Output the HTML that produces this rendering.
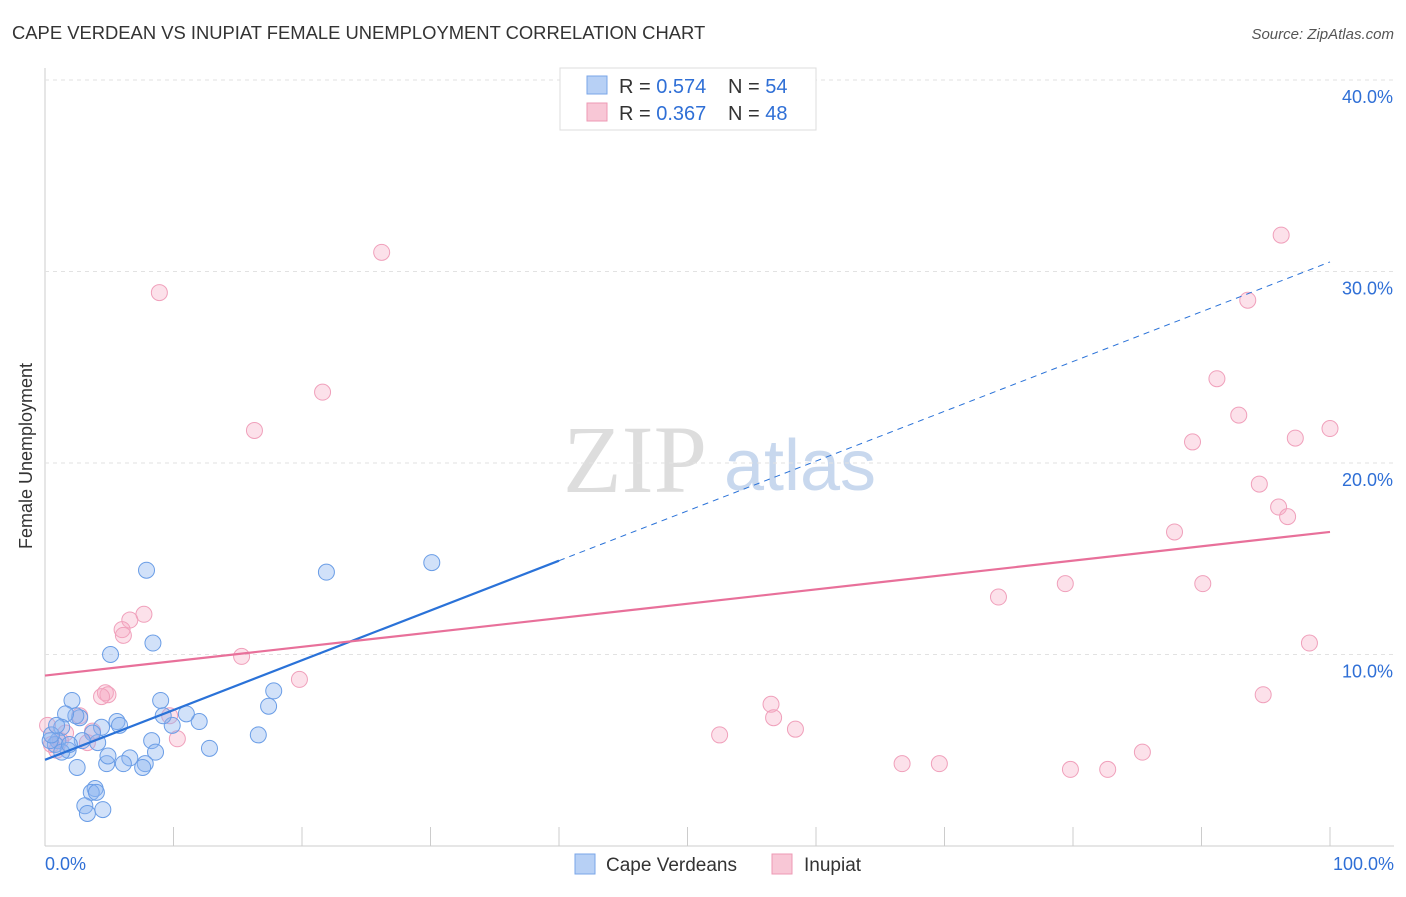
<!DOCTYPE html>
<html><head><meta charset="utf-8"><style>
body{margin:0;background:#fff;font-family:"Liberation Sans",sans-serif;}
</style></head><body>
<svg width="1406" height="892" xmlns="http://www.w3.org/2000/svg" id="chart" font-family="Liberation Sans, sans-serif">
<text x="12" y="39" font-size="18.4" fill="#333">CAPE VERDEAN VS INUPIAT FEMALE UNEMPLOYMENT CORRELATION CHART</text>
<text x="1394" y="39" font-size="15" fill="#555" font-style="italic" text-anchor="end">Source: ZipAtlas.com</text>
<text x="32" y="456" font-size="18" fill="#333" text-anchor="middle" transform="rotate(-90 32 456)">Female Unemployment</text>
<text x="635" y="492" font-size="96" fill="#ddd" font-family="Liberation Serif, serif" text-anchor="middle">ZIP</text>
<text x="800" y="490" font-size="72" fill="#c8d8ee" text-anchor="middle">atlas</text>
<g id="grid"></g><g id="marks"></g>
<g>
<rect x="560" y="68" width="256" height="62" fill="#fff" stroke="#ddd"/>
<rect x="587" y="76" width="20" height="18" fill="#b7d0f5" stroke="#7aa6e8"/>
<rect x="587" y="103" width="20" height="18" fill="#f8c7d6" stroke="#ee9ab4"/>
<text x="619" y="93" font-size="20" fill="#333">R = <tspan fill="#2f6fd6">0.574</tspan></text>
<text x="728" y="93" font-size="20" fill="#333">N = <tspan fill="#2f6fd6">54</tspan></text>
<text x="619" y="120" font-size="20" fill="#333">R = <tspan fill="#2f6fd6">0.367</tspan></text>
<text x="728" y="120" font-size="20" fill="#333">N = <tspan fill="#2f6fd6">48</tspan></text>
</g>
<g>
<rect x="575" y="854" width="20" height="20" fill="#b7d0f5" stroke="#7aa6e8"/>
<text x="606" y="871" font-size="19" fill="#333">Cape Verdeans</text>
<rect x="772" y="854" width="20" height="20" fill="#f8c7d6" stroke="#ee9ab4"/>
<text x="804" y="871" font-size="19" fill="#333">Inupiat</text>
</g>
<text x="45" y="870" font-size="18" fill="#2f6fd6">0.0%</text>
<text x="1394" y="870" font-size="18" fill="#2f6fd6" text-anchor="end">100.0%</text>
</svg>
<script>
const yTicks=[10,20,30,40];
const yTickLabels=["10.0%","20.0%","30.0%","40.0%"];
const blueX=[30.1,21.9,7.9,8.4,5.1,9.0,17.8,17.4,16.6,12.0,11.0,9.9,9.2,12.8,8.3,8.6,7.8,7.6,6.6,6.1,4.8,4.9,5.6,5.8,4.4,4.1,3.7,2.7,2.4,2.1,1.6,1.3,1.0,0.8,0.4,0.5,1.8,1.3,2.5,3.9,3.6,4.0,3.1,3.3,4.5,0.9,2.9,1.9];
const blueY=[14.8,14.3,14.4,10.6,10.0,7.6,8.1,7.3,5.8,6.5,6.9,6.3,6.8,5.1,5.5,4.9,4.3,4.1,4.6,4.3,4.3,4.7,6.5,6.3,6.2,5.4,5.9,6.7,6.8,7.6,6.9,6.2,5.5,5.3,5.5,5.8,5.0,4.9,4.1,3.0,2.8,2.8,2.1,1.7,1.9,6.3,5.5,5.3];
const pinkX=[96.2,93.6,91.2,92.9,100,97.3,89.3,94.5,96.0,96.7,87.9,79.4,90.1,74.2,98.4,94.8,56.5,56.7,58.4,52.5,85.4,66.7,69.6,79.8,82.7,26.2,8.9,21.6,16.3,15.3,19.8,7.7,6.6,6.0,6.1,4.7,4.9,4.4,9.7,10.3,2.7,3.7,1.6,0.2,0.5,0.9,3.3,1.2];
const pinkY=[31.9,28.5,24.4,22.5,21.8,21.3,21.1,18.9,17.7,17.2,16.4,13.7,13.7,13.0,10.6,7.9,7.4,6.7,6.1,5.8,4.9,4.3,4.3,4.0,4.0,31.0,28.9,23.7,21.7,9.9,8.7,12.1,11.8,11.3,11.0,8.0,7.9,7.8,6.8,5.6,6.8,6.0,5.9,6.3,5.3,5.0,5.4,5.5];
const blueTrend=[4.5,30.5];
const blueSolidEnd=40;
const pinkTrend=[8.9,16.4];
const X=v=>45+v*12.85, Y=v=>846-v*19.15;
const NS="http://www.w3.org/2000/svg";
const grid=document.getElementById('grid'), marks=document.getElementById('marks');
function mk(tag,at,parent){const e=document.createElementNS(NS,tag);for(const k in at)e.setAttribute(k,at[k]);parent.appendChild(e);return e;}
let l=mk('line',{x1:45,y1:68,x2:45,y2:846,stroke:'#ccc'},grid);


l=mk('line',{x1:45,y1:846,x2:1394,y2:846,stroke:'#ccc'},grid);


for(let i=0;i<=10;i++){const t=mk('line',{x1:X(i*10),y1:827,x2:X(i*10),y2:846,stroke:'#ccc'},grid);

}
yTicks.forEach((v,i)=>{const g=mk('line',{x1:45,y1:Y(v),x2:1394,y2:Y(v),stroke:'#e2e2e2','stroke-dasharray':'4,4'},grid);


const t=mk('text',{x:1393,y:Y(v)+23,'font-size':18,fill:'#2f6fd6','text-anchor':'end'},grid);t.textContent=yTickLabels[i];

});
pinkX.forEach((x,i)=>{const c=mk('circle',{cx:X(x),cy:Y(pinkY[i]),r:8,fill:'rgba(245,170,195,0.35)',stroke:'#f0a0bb','stroke-width':1},marks);

});
blueX.forEach((x,i)=>{const c=mk('circle',{cx:X(x),cy:Y(blueY[i]),r:8,fill:'rgba(140,180,240,0.4)',stroke:'#6a9de6','stroke-width':1},marks);

});
const by=x=>blueTrend[0]+(blueTrend[1]-blueTrend[0])*x/100;
let t1=mk('line',{x1:X(0),y1:Y(by(0)),x2:X(blueSolidEnd),y2:Y(by(blueSolidEnd)),stroke:'#2a72d8','stroke-width':2.2},marks);


let t2=mk('line',{x1:X(blueSolidEnd),y1:Y(by(blueSolidEnd)),x2:X(100),y2:Y(by(100)),stroke:'#2a72d8','stroke-width':1,'stroke-dasharray':'6,5'},marks);


let t3=mk('line',{x1:X(0),y1:Y(pinkTrend[0]),x2:X(100),y2:Y(pinkTrend[1]),stroke:'#e8709a','stroke-width':2.2},marks);


</script>
</body></html>
